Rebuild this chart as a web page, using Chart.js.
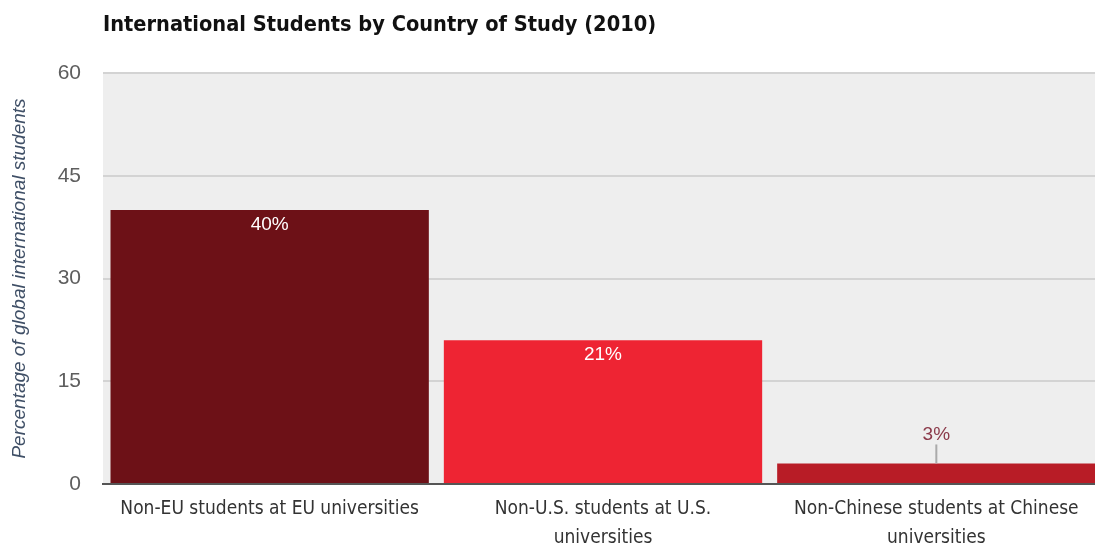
<!DOCTYPE html>
<html>
<head>
<meta charset="utf-8">
<script src="https://cdn.jsdelivr.net/npm/chart.js@4/dist/chart.umd.min.js"></script>
<style>
  html, body { margin: 0; padding: 0; background: #fff; overflow: hidden; }
  #wrap { width: 1103px; height: 547px; position: relative; }
</style>
</head>
<body>
<div id="wrap"><canvas id="chart"></canvas></div>
<script>
// data
var chartTitle = 'International Students by Country of Study (2010)';
var categories = [
  ['Non-EU students at EU universities'],
  ['Non-U.S. students at U.S.', 'universities'],
  ['Non-Chinese students at Chinese', 'universities']
];
var shares = [40, 21, 3];
var barColors = ['#6d1117', '#ee2433', '#b81c26'];
var yTicks = [0, 15, 30, 45, 60];

// plot background, title and value labels
var decorPlugin = {
  id: 'decor',
  beforeDraw: function (chart) {
    var ctx = chart.ctx, a = chart.chartArea;
    ctx.save();
    ctx.fillStyle = '#eeeeee';
    ctx.fillRect(a.left, a.top, a.right - a.left, a.bottom - a.top);
    ctx.restore();
  },
  afterDraw: function (chart) {
    var ctx = chart.ctx, a = chart.chartArea;
    ctx.save();
    ctx.fillStyle = '#111';
    ctx.font = 'bold 21.6px "DejaVu Sans Condensed", sans-serif';
    ctx.textBaseline = 'middle';
    ctx.textAlign = 'left';
    ctx.fillText(chartTitle, a.left, 25);

    var meta = chart.getDatasetMeta(0);
    ctx.textAlign = 'center';
    ctx.font = '19px "Liberation Sans", Arial, sans-serif';
    meta.data.forEach(function (bar, i) {
      var txt = shares[i] + '%';
      if (bar.base - bar.y > 40) {
        ctx.fillStyle = '#ffffff';
        ctx.fillText(txt, bar.x, bar.y + 15);
      } else {
        ctx.strokeStyle = '#aaaaaa';
        ctx.lineWidth = 2;
        ctx.beginPath();
        ctx.moveTo(bar.x, bar.y - 19);
        ctx.lineTo(bar.x, bar.y);
        ctx.stroke();
        ctx.fillStyle = '#8b3a4a';
        ctx.fillText(txt, bar.x, bar.y - 29);
      }
    });
    ctx.restore();
  }
};

new Chart(document.getElementById('chart'), {
  type: 'bar',
  data: {
    labels: categories,
    datasets: [{
      data: shares,
      backgroundColor: barColors,
      borderWidth: 0,
      categoryPercentage: 1,
      barPercentage: 0.955
    }]
  },
  options: {
    responsive: true,
    maintainAspectRatio: false,
    animation: false,
    layout: { padding: { top: 73, right: 0, bottom: 0, left: 0 } },
    plugins: {
      legend: { display: false },
      tooltip: { enabled: false }
    },
    scales: {
      x: {
        grid: { display: false, drawTicks: false },
        border: { display: true, color: '#555555', width: 2 },
        ticks: {
          color: '#333333',
          padding: 11,
          maxRotation: 0,
          font: { family: '"DejaVu Sans Condensed", sans-serif', size: 19, lineHeight: 1.52 }
        },
        afterFit: function (s) { s.height = 63; }
      },
      y: {
        min: 0,
        max: 60,
        afterBuildTicks: function (s) {
          s.ticks = yTicks.map(function (v) { return { value: v }; });
        },
        grid: { color: '#d3d3d3', lineWidth: 2, drawTicks: false },
        border: { display: false },
        ticks: {
          color: '#5e5e5e',
          padding: 22,
          font: { family: '"Liberation Sans", Arial, sans-serif', size: 21 }
        },
        title: {
          display: true,
          text: 'Percentage of global international students',
          color: '#3f4f66',
          padding: { top: 8, bottom: 0 },
          font: { family: '"Liberation Sans", Arial, sans-serif', size: 19, style: 'italic' }
        },
        afterFit: function (s) { s.width = 103; }
      }
    }
  },
  plugins: [decorPlugin]
});
</script>
</body>
</html>
